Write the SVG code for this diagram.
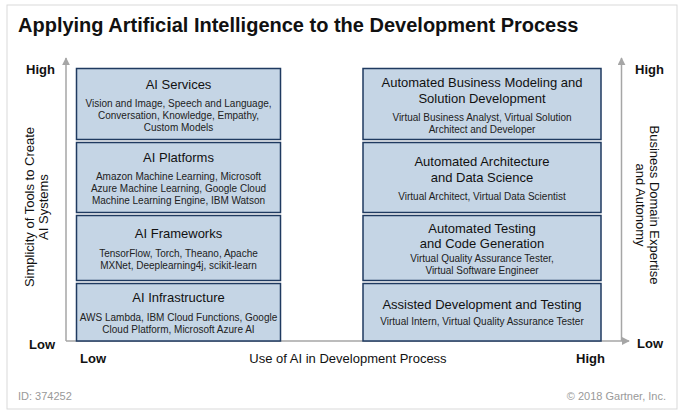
<svg xmlns="http://www.w3.org/2000/svg" width="684" height="415" viewBox="0 0 684 415">
<style>
text{font-family:"Liberation Sans",Arial,sans-serif;fill:#111}
.title{font-size:20px;font-weight:bold}
.bx{fill:#c5d5e5;stroke:#1f3a60;stroke-width:1.5}
.h{font-size:13px;text-anchor:middle}
.d{font-size:10px;text-anchor:middle;fill:#222}
.ax{stroke:#a6a6a6;stroke-width:1.5;fill:none}
.lbl{font-size:13px;font-weight:bold}
.axl{font-size:13px;text-anchor:middle}
.foot{font-size:11px;fill:#999}
</style>
<defs>
<marker id="arr" viewBox="0 0 10 10" refX="9" refY="5" markerWidth="8" markerHeight="8" markerUnits="userSpaceOnUse" orient="auto">
<path d="M0,0 L10,5 L0,10 z" fill="#a6a6a6"/>
</marker>
</defs>
<rect x="7" y="5" width="670" height="404" fill="#fff" stroke="#d9d9d9" stroke-width="1"/>
<text class="title" x="18" y="32">Applying Artificial Intelligence to the Development Process</text>

<g id="axes">
<path class="ax" d="M66,341 V58" marker-end="url(#arr)"/>
<path class="ax" d="M66,341 H629" marker-end="url(#arr)"/>
<path class="ax" d="M621.5,341 V58" marker-end="url(#arr)"/>
</g>

<g id="axis-labels">
<text class="lbl" x="55" y="74" text-anchor="end">High</text>
<text class="lbl" x="55" y="349" text-anchor="end">Low</text>
<text class="lbl" x="635" y="74">High</text>
<text class="lbl" x="637" y="348">Low</text>
<text class="lbl" x="80" y="363">Low</text>
<text class="lbl" x="576" y="363">High</text>
<text class="axl" x="348" y="363">Use of AI in Development Process</text>
<text class="axl" transform="translate(34,207) rotate(-90)">Simplicity of Tools to Create</text>
<text class="axl" transform="translate(48,207) rotate(-90)">AI Systems</text>
<text class="axl" transform="translate(650,205) rotate(90)">Business Domain Expertise</text>
<text class="axl" transform="translate(636,205) rotate(90)">and Autonomy</text>
</g>

<g id="ai-services">
<rect class="bx" x="76.5" y="68.5" width="204" height="71"/>
<text class="h" x="178.5" y="89">AI Services</text>
<text class="d" x="178.5" y="107">Vision and Image, Speech and Language,</text>
<text class="d" x="178.5" y="119">Conversation, Knowledge, Empathy,</text>
<text class="d" x="178.5" y="131">Custom Models</text>
</g>
<g id="ai-platforms">
<rect class="bx" x="76.5" y="142.5" width="204" height="70"/>
<text class="h" x="178.5" y="162">AI Platforms</text>
<text class="d" x="178.5" y="180">Amazon Machine Learning, Microsoft</text>
<text class="d" x="178.5" y="192">Azure Machine Learning, Google Cloud</text>
<text class="d" x="178.5" y="204">Machine Learning Engine, IBM Watson</text>
</g>
<g id="ai-frameworks">
<rect class="bx" x="76.5" y="215.5" width="204" height="65"/>
<text class="h" x="178.5" y="238">AI Frameworks</text>
<text class="d" x="178.5" y="257">TensorFlow, Torch, Theano, Apache</text>
<text class="d" x="178.5" y="269">MXNet, Deeplearning4j, scikit-learn</text>
</g>
<g id="ai-infrastructure">
<rect class="bx" x="76.5" y="283.5" width="204" height="57.5"/>
<text class="h" x="178.5" y="302">AI Infrastructure</text>
<text class="d" x="178.5" y="321">AWS Lambda, IBM Cloud Functions, Google</text>
<text class="d" x="178.5" y="333">Cloud Platform, Microsoft Azure AI</text>
</g>

<g id="business-modeling">
<rect class="bx" x="363" y="68.5" width="238" height="71"/>
<text class="h" x="482" y="87">Automated Business Modeling and</text>
<text class="h" x="482" y="103">Solution Development</text>
<text class="d" x="482" y="121">Virtual Business Analyst, Virtual Solution</text>
<text class="d" x="482" y="133">Architect and Developer</text>
</g>
<g id="architecture">
<rect class="bx" x="363" y="142.5" width="238" height="70"/>
<text class="h" x="482" y="166">Automated Architecture</text>
<text class="h" x="482" y="182">and Data Science</text>
<text class="d" x="482" y="200">Virtual Architect, Virtual Data Scientist</text>
</g>
<g id="testing">
<rect class="bx" x="363" y="215.5" width="238" height="65"/>
<text class="h" x="482" y="233">Automated Testing</text>
<text class="h" x="482" y="248">and Code Generation</text>
<text class="d" x="482" y="262">Virtual Quality Assurance Tester,</text>
<text class="d" x="482" y="274">Virtual Software Engineer</text>
</g>
<g id="assisted">
<rect class="bx" x="363" y="283.5" width="238" height="57.5"/>
<text class="h" x="482" y="309">Assisted Development and Testing</text>
<text class="d" x="482" y="325">Virtual Intern, Virtual Quality Assurance Tester</text>
</g>

<text class="foot" x="18" y="400">ID: 374252</text>
<text class="foot" x="666" y="400" text-anchor="end">© 2018 Gartner, Inc.</text>
</svg>
